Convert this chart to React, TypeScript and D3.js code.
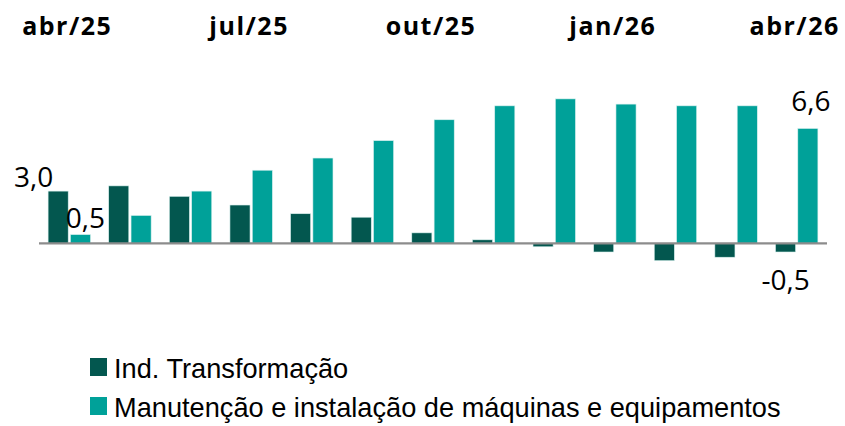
import * as d3 from "d3";
import { useEffect, useRef } from "react";

// months shown on the category axis
const months = [
  "abr/25", "mai/25", "jun/25", "jul/25", "ago/25", "set/25", "out/25",
  "nov/25", "dez/25", "jan/26", "fev/26", "mar/26", "abr/26",
];
const topLabels = ["abr/25", "jul/25", "out/25", "jan/26", "abr/26"];

const seriesNames = [
  "Ind. Transformação",
  "Manutenção e instalação de máquinas e equipamentos",
];
const indTransformacao = [3.0, 3.3, 2.7, 2.2, 1.7, 1.5, 0.6, 0.2, -0.2, -0.5, -1.0, -0.8, -0.5];
const manutencao = [0.5, 1.6, 3.0, 4.2, 4.9, 5.9, 7.1, 7.9, 8.3, 8.0, 7.9, 7.9, 6.6];

const colors = ["#03574F", "#00A199"];

const W = 845;
const H = 426;

const App = () => {
  const svgRef = useRef<SVGSVGElement>(null);

  useEffect(() => {
    const svg = d3.select(svgRef.current);
    svg.selectAll("*").remove();

    // scales
    const x0 = d3.scaleBand<string>()
      .domain(months)
      .range([39, 827])
      .paddingInner(0.3)
      .paddingOuter(0.15);
    const x1 = d3.scaleBand<number>()
      .domain([0, 1])
      .range([0, x0.bandwidth()])
      .paddingInner(0.1);
    const y = d3.scaleLinear()
      .domain([-2, 10])
      .range([278.1, 69.3]);

    const series = [indTransformacao, manutencao];

    // bars
    series.forEach((vals, s) => {
      svg.append("g")
        .selectAll("rect")
        .data(vals)
        .join("rect")
        .attr("x", (_, i) => (x0(months[i]) as number) + (x1(s) as number))
        .attr("y", v => y(Math.max(0, v)))
        .attr("width", x1.bandwidth())
        .attr("height", v => Math.abs(y(v) - y(0)))
        .attr("fill", colors[s])
        .attr("stroke", "#d9f0ee")
        .attr("stroke-width", 0.6);
    });

    // zero line
    svg.append("line")
      .attr("x1", 39)
      .attr("x2", 827)
      .attr("y1", y(0))
      .attr("y2", y(0))
      .attr("stroke", "#8c8c8c")
      .attr("stroke-width", 2.2);

    // month labels on top
    svg.append("g")
      .selectAll("text")
      .data(topLabels)
      .join("text")
      .attr("x", m => (x0(m) as number) + x0.bandwidth() / 2 - 2)
      .attr("y", 35)
      .attr("text-anchor", "middle")
      .attr("font-family", "'Open Sans', sans-serif")
      .attr("font-weight", 700)
      .attr("font-size", 25)
      .attr("letter-spacing", 1.5)
      .attr("fill", "#000")
      .text(m => m);

    // data labels (first and last of each series)
    const fmt = (v: number) => v.toFixed(1).replace(".", ",");
    const barCenter = (s: number, i: number) =>
      (x0(months[i]) as number) + (x1(s) as number) + x1.bandwidth() / 2;
    const last = months.length - 1;
    const labels = [
      { s: 0, i: 0, anchor: "end", dx: -5, dy: -4 },
      { s: 1, i: 0, anchor: "middle", dx: 5, dy: -7 },
      { s: 1, i: last, anchor: "middle", dx: 3, dy: -17 },
      { s: 0, i: last, anchor: "middle", dx: 0, dy: 38 },
    ];
    svg.append("g")
      .selectAll("text")
      .data(labels)
      .join("text")
      .attr("x", d => barCenter(d.s, d.i) + d.dx)
      .attr("y", d => y(series[d.s][d.i]) + d.dy)
      .attr("text-anchor", d => d.anchor)
      .attr("font-family", "'Open Sans', sans-serif")
      .attr("font-size", 28)
      .attr("fill", "#000")
      .text(d => fmt(series[d.s][d.i]));

    // legend
    const legend = svg.append("g").attr("transform", "translate(90,358)");
    seriesNames.forEach((name, s) => {
      const g = legend.append("g").attr("transform", `translate(0,${s * 39})`);
      g.append("rect")
        .attr("x", 0)
        .attr("y", 0)
        .attr("width", 17)
        .attr("height", 18)
        .attr("fill", colors[s]);
      g.append("text")
        .attr("x", 24)
        .attr("y", 20)
        .attr("font-family", "'Liberation Sans', Arial, sans-serif")
        .attr("font-size", 27.2)
        .attr("fill", "#000")
        .text(name);
    });
  }, []);

  return (
    <svg
      ref={svgRef}
      width={W}
      height={H}
      style={{ position: "absolute", left: 0, top: 0, background: "#fff" }}
    ></svg>
  );
};

export default App;
